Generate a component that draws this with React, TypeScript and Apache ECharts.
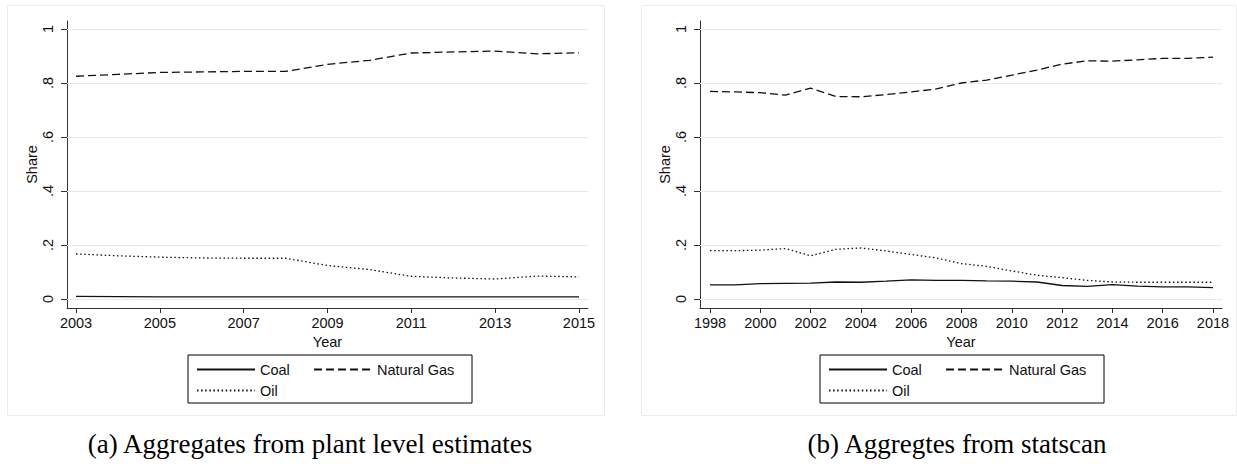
import React, { useEffect, useRef } from 'react';
import * as echarts from 'echarts';

// ---------- data ----------
const seriesNames = ['Coal', 'Natural Gas', 'Oil'];

const leftYears = [2003, 2004, 2005, 2006, 2007, 2008, 2009, 2010, 2011, 2012, 2013, 2014, 2015];
const leftCoal = [0.010, 0.009, 0.008, 0.008, 0.008, 0.008, 0.008, 0.008, 0.008, 0.008, 0.008, 0.008, 0.008];
const leftGas = [0.825, 0.832, 0.839, 0.841, 0.843, 0.843, 0.869, 0.884, 0.911, 0.915, 0.918, 0.908, 0.912];
const leftOil = [0.167, 0.160, 0.155, 0.152, 0.151, 0.151, 0.124, 0.109, 0.084, 0.078, 0.074, 0.085, 0.082];

const rightYears = [1998, 1999, 2000, 2001, 2002, 2003, 2004, 2005, 2006, 2007, 2008, 2009, 2010, 2011, 2012, 2013, 2014, 2015, 2016, 2017, 2018];
const rightCoal = [0.052, 0.052, 0.057, 0.058, 0.059, 0.063, 0.062, 0.066, 0.071, 0.069, 0.069, 0.067, 0.066, 0.063, 0.050, 0.047, 0.053, 0.048, 0.045, 0.045, 0.042];
const rightGas = [0.769, 0.767, 0.764, 0.755, 0.781, 0.750, 0.749, 0.757, 0.767, 0.778, 0.800, 0.811, 0.829, 0.848, 0.870, 0.882, 0.881, 0.886, 0.891, 0.891, 0.896];
const rightOil = [0.179, 0.179, 0.181, 0.187, 0.160, 0.184, 0.189, 0.178, 0.165, 0.152, 0.131, 0.121, 0.104, 0.088, 0.079, 0.069, 0.063, 0.062, 0.062, 0.062, 0.062];

const yTicks = [0, 0.2, 0.4, 0.6, 0.8, 1];
const leftXTicks = [2003, 2005, 2007, 2009, 2011, 2013, 2015];
const rightXTicks = [1998, 2000, 2002, 2004, 2006, 2008, 2010, 2012, 2014, 2016, 2018];

const yAxisTitle = 'Share';
const xAxisTitle = 'Year';
const captionA = '(a) Aggregates from plant level estimates';
const captionB = '(b) Aggregtes from statscan';

// ---------- styles ----------
const FONT = '"Liberation Sans", Arial, Helvetica, sans-serif';
const SERIF = '"Liberation Serif", "DejaVu Serif", serif';
const INK = '#111';
const AXIS = '#333';
const GRID = '#e8e8e8';
const FS = 14.5;

const Y_MIN = -0.0333;
const Y_MAX = 1.0296;

const lineStyles: Record<string, any> = {
  'Coal': { color: INK, width: 1.3, type: 'solid' },
  'Natural Gas': { color: INK, width: 1.3, type: [8, 4] },
  'Oil': { color: INK, width: 1.3, type: [1.5, 2.6] },
};

function fmtY(v: number) {
  if (v === 0) return '0';
  if (v === 1) return '1';
  return String(Number(v.toFixed(1))).replace(/^0/, '');
}

function xAxisCfg(gridIndex: number, min: number, max: number, ticks: number[]) {
  return {
    type: 'value', gridIndex, min, max,
    axisLine: { show: true, onZero: false, lineStyle: { color: AXIS, width: 1 } },
    axisTick: { show: true, length: 5, customValues: ticks, lineStyle: { color: AXIS, width: 1 } },
    axisLabel: { customValues: ticks, formatter: (v: number) => String(v), color: INK, fontSize: FS, fontFamily: FONT, margin: 7 },
    splitLine: { show: false },
    name: xAxisTitle, nameLocation: 'middle', nameGap: 23,
    nameTextStyle: { color: INK, fontSize: FS, fontFamily: FONT },
  };
}

function yAxisCfg(gridIndex: number) {
  return {
    type: 'value', gridIndex, min: Y_MIN, max: Y_MAX,
    axisLine: { show: true, onZero: false, lineStyle: { color: AXIS, width: 1 } },
    axisTick: { show: true, length: 6, customValues: yTicks, lineStyle: { color: AXIS, width: 1 } },
    axisLabel: { customValues: yTicks, rotate: 90, formatter: fmtY, color: INK, fontSize: FS, fontFamily: FONT, margin: 12 },
    splitLine: { show: false },
    name: yAxisTitle, nameLocation: 'middle', nameGap: 27, nameRotate: 90,
    nameTextStyle: { color: INK, fontSize: FS, fontFamily: FONT },
  };
}

function makeSeries(idx: number, years: number[], values: number[][]) {
  return seriesNames.map((name, i) => {
    const s: any = {
      name, type: 'line', xAxisIndex: idx, yAxisIndex: idx,
      data: years.map((y, k) => [y, values[i][k]]),
      symbol: 'none', showSymbol: false, smooth: false,
      lineStyle: lineStyles[name], itemStyle: { color: INK },
      z: 3,
    };
    if (i === 0) {
      s.markLine = {
        silent: true, symbol: 'none', label: { show: false }, z: 1,
        lineStyle: { color: GRID, type: 'solid', width: 1 },
        emphasis: { disabled: true },
        data: yTicks.map((v) => ({ yAxis: v })),
      };
    }
    return s;
  });
}

function legendCfg(left: number) {
  return {
    left, top: 355, orient: 'horizontal', width: 290,
    itemWidth: 58, itemHeight: 14, itemGap: 6,
    padding: [7, 15, 5, 8],
    borderColor: '#000', borderWidth: 1, borderRadius: 0,
    backgroundColor: '#fff',
    selectedMode: false,
    icon: 'inherit',
    itemStyle: { opacity: 0, borderWidth: 0 },
    data: seriesNames,
    formatter: (n: string) => (n === 'Natural Gas' ? `{w|${n}}` : `{n|${n}}`),
    textStyle: {
      color: INK, fontSize: FS, fontFamily: FONT, lineHeight: 14,
      rich: {
        n: { width: 47, color: INK, fontSize: FS, fontFamily: FONT, lineHeight: 14 },
        w: { width: 80, color: INK, fontSize: FS, fontFamily: FONT, lineHeight: 14 },
      },
    },
  };
}

export default function App() {
  const ref = useRef<HTMLDivElement>(null);
  useEffect(() => {
    if (!ref.current) return;
    const chart = echarts.init(ref.current, undefined, { renderer: 'svg' });
    chart.setOption({
      animation: false,
      backgroundColor: '#fff',
      grid: [
        { left: 67, top: 21, width: 521, height: 287, containLabel: false },
        { left: 700, top: 21, width: 522, height: 287, containLabel: false },
      ],
      xAxis: [
        xAxisCfg(0, 2002.785, 2015.215, leftXTicks),
        xAxisCfg(1, 1997.602, 2018.358, rightXTicks),
      ],
      yAxis: [yAxisCfg(0), yAxisCfg(1)],
      legend: [legendCfg(188), legendCfg(820)],
      series: [
        ...makeSeries(0, leftYears, [leftCoal, leftGas, leftOil]),
        ...makeSeries(1, rightYears, [rightCoal, rightGas, rightOil]),
      ],
      graphic: [
        { type: 'rect', shape: { x: 7.5, y: 5.5, width: 597, height: 410 }, style: { fill: 'none', stroke: '#ececec', lineWidth: 1 }, z: -10, silent: true },
        { type: 'rect', shape: { x: 641.5, y: 5.5, width: 595, height: 410 }, style: { fill: 'none', stroke: '#ececec', lineWidth: 1 }, z: -10, silent: true },
        { type: 'text', x: 310, y: 444, style: { text: captionA, font: `27px ${SERIF}`, fill: '#000', textAlign: 'center', textVerticalAlign: 'middle' }, silent: true },
        { type: 'text', x: 957, y: 444, style: { text: captionB, font: `27px ${SERIF}`, fill: '#000', textAlign: 'center', textVerticalAlign: 'middle' }, silent: true },
      ],
    });
    return () => chart.dispose();
  }, []);
  return (
    <div
      ref={ref}
      style={{ position: 'absolute', left: 0, top: 0, width: 1237, height: 467, background: '#fff' }}
    />
  );
}
